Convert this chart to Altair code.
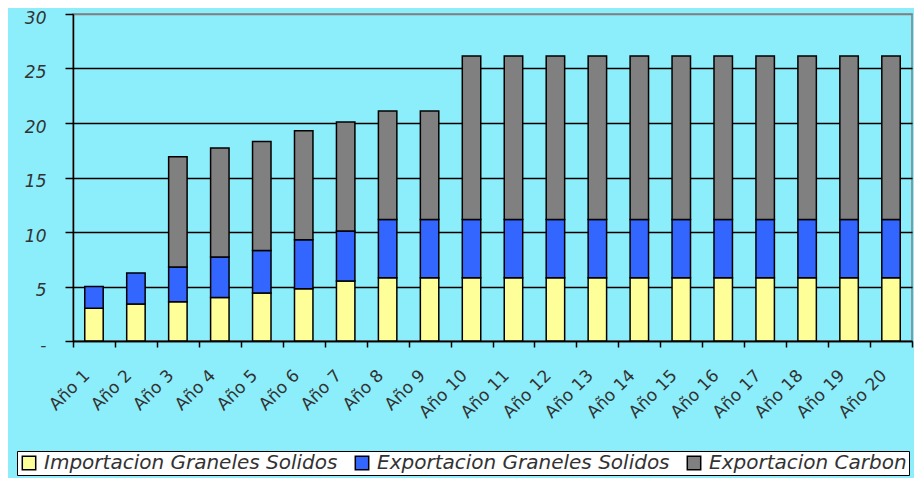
import altair as alt
import pandas as pd

years = ["Año 1", "Año 2", "Año 3", "Año 4", "Año 5", "Año 6", "Año 7", "Año 8", "Año 9", "Año 10",
         "Año 11", "Año 12", "Año 13", "Año 14", "Año 15", "Año 16", "Año 17", "Año 18", "Año 19", "Año 20"]

series = ["Importacion Graneles Solidos", "Exportacion Graneles Solidos", "Exportacion Carbon"]
colors = ["#FFFF99", "#3366FF", "#808080"]

importacion_gs = [3.0, 3.4, 3.6, 4.0, 4.4, 4.8, 5.5, 5.8, 5.8, 5.8,
                  5.8, 5.8, 5.8, 5.8, 5.8, 5.8, 5.8, 5.8, 5.8, 5.8]
exportacion_gs = [2.0, 2.85, 3.2, 3.7, 3.9, 4.5, 4.6, 5.35, 5.35, 5.35,
                  5.35, 5.35, 5.35, 5.35, 5.35, 5.35, 5.35, 5.35, 5.35, 5.35]
exportacion_carbon = [0.0, 0.0, 10.1, 10.0, 10.0, 10.0, 10.0, 9.95, 9.95, 15.0,
                      15.0, 15.0, 15.0, 15.0, 15.0, 15.0, 15.0, 15.0, 15.0, 15.0]

y_ticks = [0, 5, 10, 15, 20, 25, 30]

rows = []
for vals, name, k in zip([importacion_gs, exportacion_gs, exportacion_carbon], series, range(3)):
    for yr, v in zip(years, vals):
        if v > 0:
            rows.append({"year": yr, "serie": name, "valor": v, "orden": k})
df = pd.DataFrame(rows)

FONT = "DejaVu Sans"
NB = "\u00a0"

chart = alt.Chart(df).mark_bar(
    stroke="black", strokeWidth=1.5, width=alt.RelativeBandSize(0.44)
).encode(
    x=alt.X("year:N", sort=years, title=None,
            scale=alt.Scale(paddingInner=0, paddingOuter=0),
            axis=alt.Axis(labelAngle=-45, tickBand="extent", tickSize=6, tickWidth=1.5,
                          tickColor="black", domainColor="black", domainWidth=1.5,
                          labelFont=FONT, labelFontSize=17, labelColor="#333333",
                          labelPadding=20, labelOffset=-13, zindex=1)),
    y=alt.Y("valor:Q", title=None, stack="zero",
            scale=alt.Scale(domain=[0, 30], nice=False),
            axis=alt.Axis(values=y_ticks,
                          labelExpr=f"datum.value == 0 ? '-{NB}{NB}{NB}' : datum.label",
                          labelFont=FONT, labelFontSize=17, labelFontStyle="italic",
                          labelColor="#333333", labelPadding=19, labelOffset=4,
                          tickSize=8, tickWidth=1.5, tickColor="black",
                          domainColor="black", domainWidth=1.5,
                          grid=True, gridWidth=1.5,
                          gridColor={"condition": {"test": "datum.value === 30", "value": "#808080"},
                                     "value": "black"})),
    color=alt.Color("serie:N", title=None,
                    scale=alt.Scale(domain=series, range=colors),
                    legend=alt.Legend(orient="none", legendX=-56, legendY=437,
                                      direction="horizontal", columns=3,
                                      fillColor="white", strokeColor="black", padding=2,
                                      symbolType="square", symbolSize=180,
                                      symbolStrokeColor="black", symbolStrokeWidth=1.5,
                                      labelFont=FONT, labelFontSize=20, labelFontStyle="italic",
                                      labelColor="#333333", labelLimit=400,
                                      columnPadding=14, labelOffset=5)),
    order=alt.Order("orden:Q", sort="ascending"),
).properties(
    width=839, height=327,
    autosize=alt.AutoSizeParams(type="none"),
    padding={"left": 65, "top": 6, "right": 2, "bottom": 137},
    background="#8CEEFB",
).configure_view(
    stroke="#808080", strokeWidth=1.5
)

chart.save("out.html", embed_options={"renderer": "svg", "actions": False})
